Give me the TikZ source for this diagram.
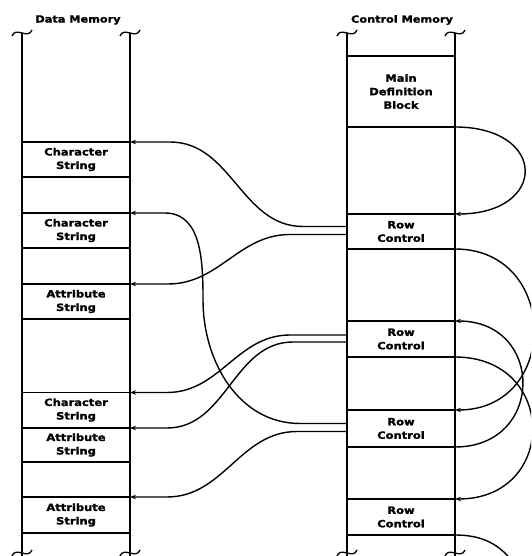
\documentclass[tikz,border=0pt]{standalone}
\usepackage{fontspec}
\newfontfamily\memfont{DejaVu Sans}[FakeStretch=1.15, BoldFeatures={FakeBold=1.5}]
\usetikzlibrary{arrows.meta,calc}

\begin{document}
\begin{tikzpicture}[x=1pt, y=1pt,
    rail/.style={line width=2.4pt},
    railcap/.style={line width=1.3pt},
    cell/.style={draw, line width=1.9pt, minimum width=108pt, minimum height=35pt,
      inner sep=0pt, outer sep=0pt, align=center,
      font=\memfont\bfseries\fontsize{10}{13.5}\selectfont},
    title/.style={font=\memfont\bfseries\fontsize{9.8}{11}\selectfont},
    ptr/.style={line width=1.4pt, -{Stealth[length=6pt,width=4.5pt]}},
    link/.style={line width=1.4pt}]
      \clip (0,0) rectangle (531,556);

      % Headings
      \node[title] (dmhead) at (78,536) {Data Memory};
      \node[title] (cmhead) at (402,536) {Control Memory};

      % Data memory
      \node[cell] (cs1) at (76,396.5) {Character\\String};
      \node[cell] (cs2) at (76,325.5) {Character\\String};
      \node[cell] (as1) at (76,254.5) {Attribute\\String};
      \node[cell] (cs3) at (76,146) {Character\\String};
      \node[cell, minimum height=34pt] (as2) at (76,111) {Attribute\\String};
      \node[cell, minimum height=36pt] (as3) at (76,41) {Attribute\\String};

      % Control memory
      \node[cell, minimum height=71pt] (mdb) at (401,464.5) {Main\\Definition\\Block};
      \node[cell] (rc1) at (401,324.5) {Row\\Control};
      \node[cell, minimum height=36pt] (rc2) at (401,217) {Row\\Control};
      \node[cell, minimum height=37pt] (rc3) at (401,127.5) {Row\\Control};
      \node[cell, minimum height=36pt] (rc4) at (401,39) {Row\\Control};

      % Rails with break marks
      \foreach \rx in {22,130,347,455} {
        \draw[rail] (\rx,523) -- (\rx,-5);
        \draw[railcap] (\rx-10,520) .. controls (\rx-8,525) and (\rx-4,524) .. (\rx,523)
          .. controls (\rx+4,522) and (\rx+8,521) .. (\rx+10,526);
        \draw[railcap] (\rx-10,0) .. controls (\rx-8,5) and (\rx-4,4) .. (\rx,3)
          .. controls (\rx+4,2) and (\rx+8,1) .. (\rx+10,6);
      }

      % Row control to strings
      \draw[ptr] ($(rc1.west)+(0,5)$) -- ++(-44,0) to[out=180,in=0] ($(cs1.north east)+(40,0)$) -- (cs1.north east);
      \draw[ptr] ($(rc1.west)+(0,-3)$) -- ++(-57,0) to[out=180,in=0] ($(as1.north east)+(38,0)$) -- (as1.north east);
      \draw[ptr] ($(rc2.west)+(0,4)$) -- ++(-57,0) to[out=180,in=0] ($(cs3.north east)+(37,0)$) -- (cs3.north east);
      \draw[ptr] ($(rc2.west)+(0,-3)$) -- ++(-54,0) to[out=180,in=0] ($(as2.north east)+(37,0)$) -- (as2.north east);
      \draw[ptr] ($(rc3.west)+(0,-3)$) -- ++(-50,0) to[out=180,in=0] ($(as3.north east)+(37,0)$) -- (as3.north east);
      \draw[ptr] ($(rc3.west)+(0,5)$) -- ++(-47,0) to[out=180,in=-90] ($(cs2.north east)+(73,-87)$)
        to[out=90,in=0] ($(cs2.north east)+(35,0)$) -- (cs2.north east);

      % Row control chain
      \draw[ptr] (mdb.south east) .. controls +(93,0) and +(93,0) .. (rc1.north east);
      \draw[ptr] (rc1.south east) .. controls +(105,0) and +(105,0) .. (rc3.north east);
      \draw[ptr] (rc3.south east) .. controls +(90,0) and +(90,0) .. (rc2.north east);
      \draw[ptr] (rc2.south east) .. controls +(103,0) and +(103,0) .. (rc4.north east);
      \draw[link] (rc4.south east) to[out=0,in=125] ++(60,-30);
    \end{tikzpicture}
\end{document}
